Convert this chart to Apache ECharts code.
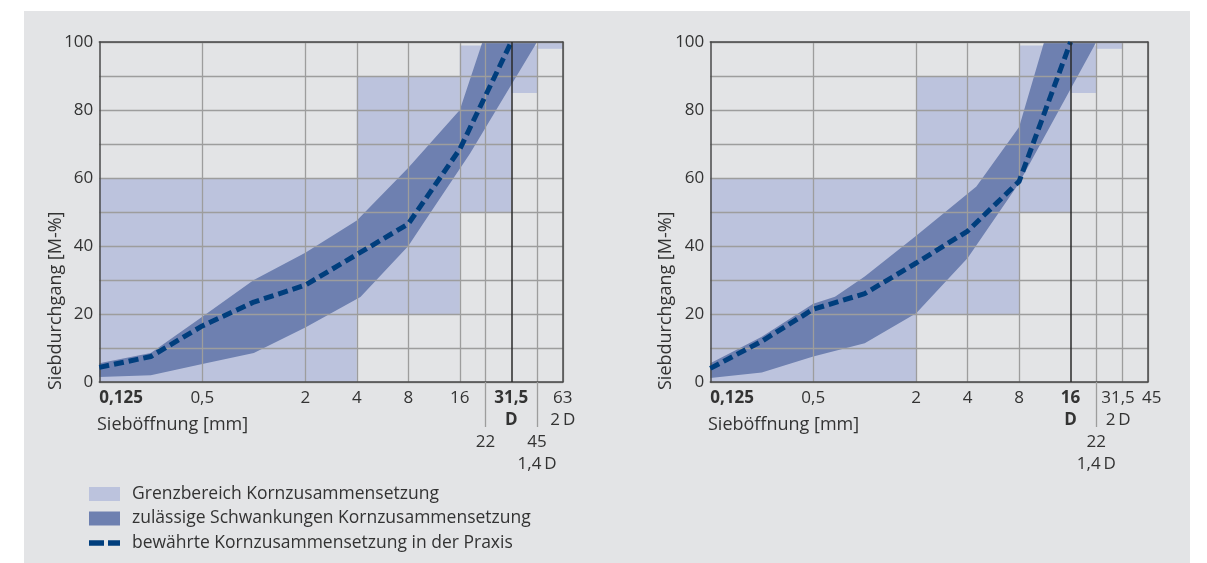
<!DOCTYPE html>
<html><head><meta charset="utf-8">
<script src="https://cdn.jsdelivr.net/npm/echarts@6/dist/echarts.min.js"></script>
<style>
html,body{margin:0;padding:0;background:#fff;}
#panel{position:absolute;left:24px;top:11px;width:1166px;height:552px;background:#e3e4e6;}
#chart{position:absolute;left:0;top:0;width:1207px;height:563px;}
</style></head><body>
<div id="panel"></div><div id="chart"></div>
<script>
// ---- sieve sizes (mm) and their axis positions (octaves from 0.125 mm; nominal sizes)
const sievePositions = {0.125:0, 0.25:1, 0.5:2, 1:3, 2:4, 4:5, 8:6, 16:7, 22:7.5, 31.5:8, 45:8.5, 63:9};

// ---- left chart (D = 31.5 mm)
const leftXMax = 63;
const leftTickValues = [0.125, 0.5, 2, 4, 8, 16, 31.5, 63];
const leftTickLabels = ['{b|0,125}', '0,5', '2', '4', '8', '16', '{b|31,5}\n{b|D}', '63\n2\u2009D'];
const leftLowTickValues = [22, 45];
const leftLowTickLabels = ['\u00a0\n\u00a0\n22', '\u00a0\n\u00a0\n45\n1,4\u2009D'];
const leftGridLines = [0.5, 2, 4, 8, 16, 22, 45, 63];
const leftD = 31.5;
// limit areas: [from mm, to mm, lower %, upper %]
const leftLimitRects = [[0.125, 4, 0, 60], [4, 16, 20, 90], [16, 31.5, 50, 99], [31.5, 45, 85, 99], [45, 63, 98, 100]];
// permissible band: upper and lower boundary [mm, %]
const leftBandUpper = [[0.125, 5.5], [0.25, 8.5], [0.5, 19.2], [1, 30], [2, 38], [4, 47.5], [8, 63], [16, 80], [21.7, 100]];
const leftBandLower = [[0.125, 1.5], [0.25, 2], [0.5, 5.3], [1, 8.5], [2, 16], [4.2, 25], [8, 40], [9.8, 46.7], [18.4, 67.3], [45, 100]];
// proven grading curve
const leftPractice = [[0.125, 4.3], [0.25, 7.5], [0.5, 16.5], [1, 23.5], [2, 28.5], [4, 37.5], [8, 46.5], [16, 68.5], [31.5, 100]];

// ---- right chart (D = 16 mm)
const rightXMax = 45;
const rightTickValues = [0.125, 0.5, 2, 4, 8, 16, 31.5];
const rightTickLabels = ['{b|0,125}', '0,5', '2', '4', '8', '{b|16}\n{b|D}', '{l|31,5}\n{l|2\u2009D}'];
const rightLowTickValues = [22, 45];
const rightLowTickLabels = ['\u00a0\n\u00a0\n22\n1,4\u2009D', '{r|45}'];
const rightGridLines = [0.5, 2, 4, 8, 22, 31.5, 45];
const rightTickExtensions = [22];
const leftTickExtensions = [22, 45];
const rightD = 16;
const rightLimitRects = [[0.125, 2, 0, 60], [2, 8, 20, 90], [8, 16, 50, 99], [16, 22, 85, 99], [22, 31.5, 98, 100]];
const rightBandUpper = [[0.125, 5.5], [0.25, 13.3], [0.5, 23], [0.67, 25.1], [1, 31], [2, 43], [4.5, 57.5], [8, 75], [11.2, 100]];
const rightBandLower = [[0.125, 1.2], [0.25, 2.8], [0.5, 7.5], [1, 11.4], [2, 20.2], [4, 36.5], [8, 58.5], [22, 100]];
const rightPractice = [[0.125, 4], [0.25, 12], [0.5, 21.4], [1, 26], [2, 35], [4, 44.4], [8, 59], [16, 100]];

// ---- y axis
const yMin = 0, yMax = 100, yStep = 10, yLabelStep = 20;

// ---- texts
const nameLimit = 'Grenzbereich Kornzusammensetzung';
const nameBand = 'zulässige Schwankungen Kornzusammensetzung';
const namePractice = 'bewährte Kornzusammensetzung in der Praxis';
const yTitle = 'Siebdurchgang [M-%]';
const xTitle = 'Sieböffnung [mm]';

// ---- styles
const FONT = '"Open Sans", "Noto Sans", sans-serif';
const FS = 17;
const C_LIGHT = '#bcc3dd', C_BAND = '#6e80b0', C_LINE = '#003e7d';
const C_GRID = '#9d9d9d', C_AXIS = '#4a4a4a', C_TEXT = '#333333';

function pos(mm) { return (String(mm) in sievePositions) ? sievePositions[String(mm)] : Math.log2(mm / 0.125); }

function labelFormatter(values, labels) {
  return function (v) {
    for (let i = 0; i < values.length; i++) if (Math.abs(pos(values[i]) - v) < 1e-6) return labels[i];
    return '';
  };
}

const richStyles = {
  b: { fontWeight: 'bold', fontSize: FS, lineHeight: 22, color: C_TEXT, fontFamily: FONT },
  l: { fontSize: FS, lineHeight: 22, color: C_TEXT, fontFamily: FONT, padding: [0, 8, 0, 0] },
  r: { fontSize: FS, lineHeight: 22, color: C_TEXT, fontFamily: FONT, padding: [0, 0, 0, 8] }
};

function makeXAxes(gi, xmax, tickValues, tickLabels, lowValues, lowLabels, gridLines, exts) {
  const mx = pos(xmax);
  return [
    { type: 'value', gridIndex: gi, min: 0, max: mx, position: 'bottom', z: 3,
      axisLine: { show: true, onZero: false, lineStyle: { color: C_AXIS, width: 1.5 } },
      axisTick: { show: false, customValues: gridLines.map(pos) },
      splitLine: { show: true, lineStyle: { color: C_GRID, width: 1.3 } },
      axisLabel: { customValues: tickValues.map(pos), formatter: labelFormatter(tickValues, tickLabels),
        margin: 5, fontSize: FS, lineHeight: 22, color: C_TEXT, fontFamily: FONT, rich: richStyles,
        alignMinLabel: 'left', showMinLabel: true, showMaxLabel: true, hideOverlap: false } },
    { type: 'value', gridIndex: gi, min: 0, max: mx, position: 'top', z: 3,
      axisLine: { show: true, onZero: false, lineStyle: { color: C_AXIS, width: 1.5 } },
      axisTick: { show: false }, axisLabel: { show: false }, splitLine: { show: false } },
    { type: 'value', gridIndex: gi, min: 0, max: mx, position: 'bottom', z: 3,
      axisLine: { show: false }, splitLine: { show: false },
      axisLabel: { customValues: lowValues.map(pos), formatter: labelFormatter(lowValues, lowLabels),
        margin: 5, fontSize: FS, lineHeight: 22, color: C_TEXT, fontFamily: FONT, rich: richStyles,
        showMinLabel: true, showMaxLabel: true, hideOverlap: false },
      axisTick: { show: true, inside: false, length: 45, customValues: exts.map(pos), lineStyle: { color: C_GRID, width: 1.3 } } }
  ];
}
function makeYAxes(gi) {
  return [
    { type: 'value', gridIndex: gi, min: yMin, max: yMax, interval: yStep, z: 3,
      axisLine: { show: true, onZero: false, lineStyle: { color: C_AXIS, width: 1.5 } },
      axisTick: { show: false },
      splitLine: { show: true, lineStyle: { color: C_GRID, width: 1.3 } },
      axisLabel: { formatter: v => (v % yLabelStep === 0 ? String(v) : ''), margin: 6, fontSize: FS, color: C_TEXT, fontFamily: FONT } },
    { type: 'value', gridIndex: gi, min: yMin, max: yMax, position: 'right', z: 3,
      axisLine: { show: true, onZero: false, lineStyle: { color: C_AXIS, width: 1.5 } },
      axisTick: { show: false }, axisLabel: { show: false }, splitLine: { show: false } }
  ];
}

function rectSeries(xi, yi, rects) {
  return { type: 'custom', name: nameLimit, xAxisIndex: xi, yAxisIndex: yi, z: 1, silent: true,
    itemStyle: { color: C_LIGHT },
    encode: { x: [0, 1], y: [2, 3] },
    data: rects.map(r => [pos(r[0]), pos(r[1]), r[2], r[3]]),
    renderItem: function (params, api) {
      const p0 = api.coord([api.value(0), api.value(3)]);
      const p1 = api.coord([api.value(1), api.value(2)]);
      return { type: 'rect', shape: { x: p0[0], y: p0[1], width: p1[0] - p0[0], height: p1[1] - p0[1] },
        style: { fill: C_LIGHT } };
    } };
}
function bandSeries(xi, yi, upper, lower) {
  const poly = upper.concat(lower.slice().reverse()).map(p => [pos(p[0]), p[1]]);
  return { type: 'custom', name: nameBand, xAxisIndex: xi, yAxisIndex: yi, z: 2, silent: true,
    itemStyle: { color: C_BAND },
    encode: { x: 0, y: 1 },
    data: poly,
    renderItem: function (params, api) {
      if (params.dataIndex !== 0) return null;
      return { type: 'polygon', shape: { points: poly.map(p => api.coord(p)) }, style: { fill: C_BAND } };
    } };
}
function lineSeries(xi, yi, data, dPos) {
  return { type: 'line', name: namePractice, xAxisIndex: xi, yAxisIndex: yi, z: 4, silent: true,
    symbol: 'none', itemStyle: { color: C_LINE },
    lineStyle: { color: C_LINE, width: 5, type: [10, 5], cap: 'butt' },
    data: data.map(p => [pos(p[0]), p[1]]),
    markLine: { silent: true, symbol: 'none', label: { show: false }, animation: false,
      lineStyle: { color: '#2a2a2a', width: 1.5, type: 'solid' },
      data: [{ xAxis: pos(dPos) }] } };
}

const chart = echarts.init(document.getElementById('chart'), null, { renderer: 'canvas' });
chart.setOption({
  animation: false,
  backgroundColor: 'transparent',
  textStyle: { fontFamily: FONT },
  grid: [
    { left: 99.3, top: 42, width: 463.5, height: 340 },
    { left: 710.3, top: 42, width: 437.5, height: 340 }
  ],
  xAxis: [].concat(
    makeXAxes(0, leftXMax, leftTickValues, leftTickLabels, leftLowTickValues, leftLowTickLabels, leftGridLines, leftTickExtensions),
    makeXAxes(1, rightXMax, rightTickValues, rightTickLabels, rightLowTickValues, rightLowTickLabels, rightGridLines, rightTickExtensions)),
  yAxis: [].concat(makeYAxes(0), makeYAxes(1)),
  legend: {
    orient: 'vertical', left: 89, top: 485, padding: 0, itemWidth: 31, itemHeight: 14, itemGap: 6.5,
    selectedMode: false,
    textStyle: { fontSize: 17.5, color: C_TEXT, fontFamily: FONT, lineHeight: 18, padding: [0, 0, 0, 7] },
    data: [
      { name: nameLimit, icon: 'rect' },
      { name: nameBand, icon: 'rect' },
      { name: namePractice, icon: 'path://M0,0M31,14M0,4.2h15v5.6H0zM19,4.2h12v5.6H19z', itemStyle: { color: C_LINE, borderWidth: 0 } }
    ]
  },
  graphic: [
    { type: 'text', x: 56, y: 390, rotation: Math.PI / 2, style: { text: yTitle, fill: C_TEXT, fontSize: 18, fontFamily: FONT, align: 'left', verticalAlign: 'middle' } },
    { type: 'text', x: 666, y: 390, rotation: Math.PI / 2, style: { text: yTitle, fill: C_TEXT, fontSize: 18, fontFamily: FONT, align: 'left', verticalAlign: 'middle' } },
    { type: 'text', x: 97, y: 425, style: { text: xTitle, fill: C_TEXT, fontSize: 18, fontFamily: FONT, align: 'left', verticalAlign: 'middle' } },
    { type: 'text', x: 708, y: 425, style: { text: xTitle, fill: C_TEXT, fontSize: 18, fontFamily: FONT, align: 'left', verticalAlign: 'middle' } }
  ],
  series: [
    rectSeries(0, 0, leftLimitRects),
    bandSeries(0, 0, leftBandUpper, leftBandLower),
    lineSeries(0, 0, leftPractice, leftD),
    rectSeries(3, 2, rightLimitRects),
    bandSeries(3, 2, rightBandUpper, rightBandLower),
    lineSeries(3, 2, rightPractice, rightD)
  ]
});
</script>
</body></html>
